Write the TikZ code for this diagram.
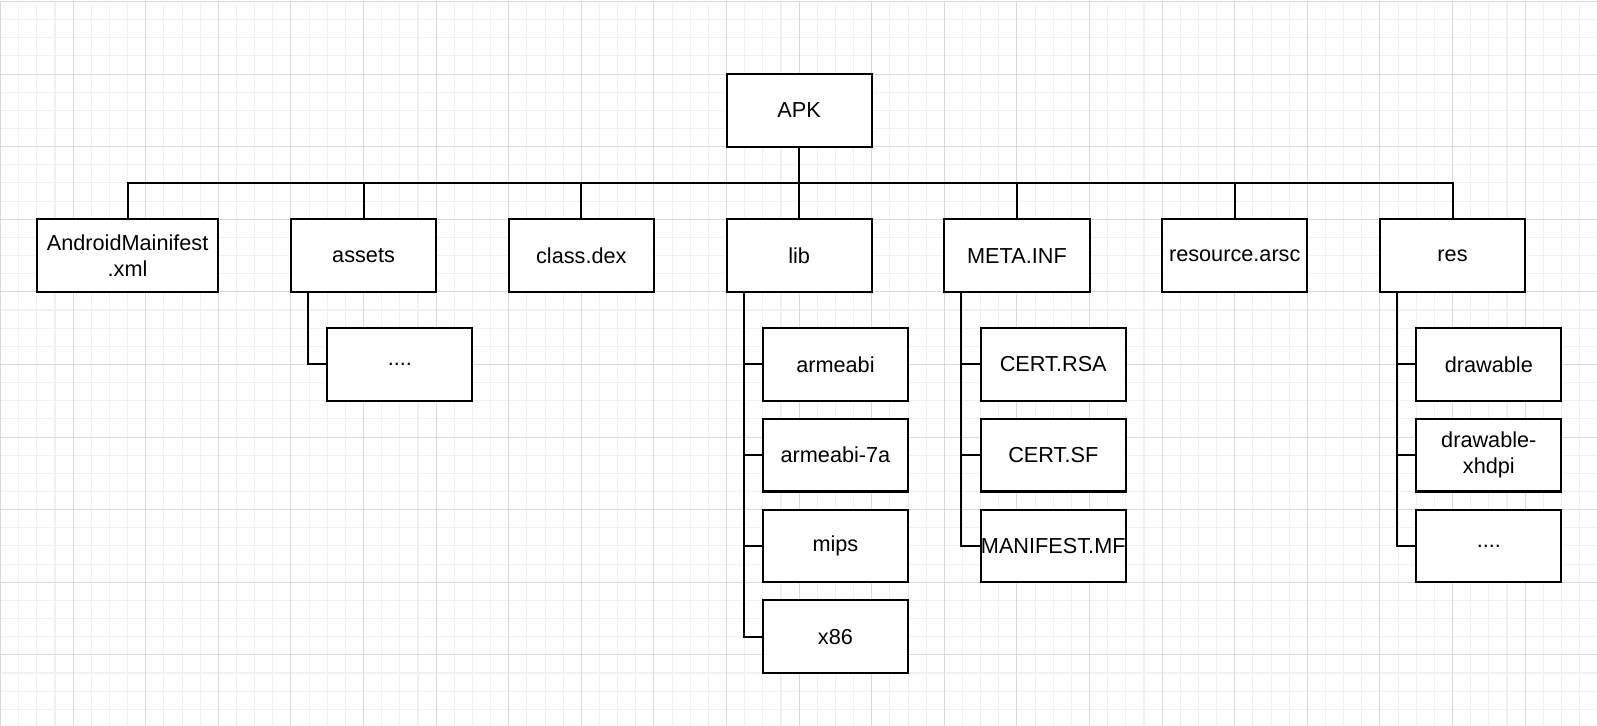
\documentclass[tikz,border=0pt]{standalone}
\usepackage{fontspec}
\setmainfont{Liberation Sans}
\usepackage{tikz}
\definecolor{gridminor}{RGB}{240,240,240}
\definecolor{gridmajor}{RGB}{218,218,218}
\begin{document}
\begin{tikzpicture}[x=0.5cm, y=-0.5cm]
		\tikzset{
			box/.style = {draw, fill=white, line width=1.6pt, minimum height=2cm,
				text width=4cm, inner sep=0pt, align=center,
				font=\fontsize{17}{20.5}\selectfont},
			link/.style = {line width=1.6pt}
		}
		\useasboundingbox (-0.03,-0.08) rectangle (87.96,39.92);
		\draw[gridminor, line width=0.8pt, step=0.5cm] (0,0) grid (88,40);
		\draw[gridmajor, line width=0.8pt, step=2cm] (0,0) grid (88,40);
		% root and first level
		\node[box] (APK) at (44,6){APK};
		\node[box, text width=5cm] (AM) at (7,14){AndroidMainifest\\.xml};
		\node[box] (assets) at (20,14){assets};
		\node[box] (dex) at (32,14){class.dex};
		\node[box] (lib) at (44,14){lib};
		\node[box] (meta) at (56,14){META.INF};
		\node[box] (arsc) at (68,14){resource.arsc};
		\node[box] (res) at (80,14){res};
		\coordinate (bus) at (44,10);
		\draw[link] (APK) -- (bus);
		\draw[link] (AM.north) |- (bus) -| (res.north);
		\draw[link] (assets.north) -- (assets.north |- bus);
		\draw[link] (dex.north) -- (dex.north |- bus);
		\draw[link] (lib.north) -- (lib.north |- bus);
		\draw[link] (meta.north) -- (meta.north |- bus);
		\draw[link] (arsc.north) -- (arsc.north |- bus);
		% assets
		\node[box] (dotsA) at (22,20){....};
		\draw[link] ([xshift=0.5cm]assets.south west) |- (dotsA.west);
		% lib
		\node[box] (arm) at (46,20){armeabi};
		\node[box] (arm7) at (46,25){armeabi-7a};
		\node[box] (mips) at (46,30){mips};
		\node[box] (x86) at (46,35){x86};
		\coordinate (libT) at ([xshift=0.5cm]lib.south west);
		\draw[link] (libT) |- (x86.west);
		\draw[link] (arm.west) -- (arm.west -| libT);
		\draw[link] (arm7.west) -- (arm7.west -| libT);
		\draw[link] (mips.west) -- (mips.west -| libT);
		% META.INF
		\node[box] (rsa) at (58,20){CERT.RSA};
		\node[box] (sf) at (58,25){CERT.SF};
		\node[box] (mf) at (58,30){MANIFEST.MF};
		\coordinate (metaT) at ([xshift=0.5cm]meta.south west);
		\draw[link] (metaT) |- (mf.west);
		\draw[link] (rsa.west) -- (rsa.west -| metaT);
		\draw[link] (sf.west) -- (sf.west -| metaT);
		% res
		\node[box] (draw) at (82,20){drawable};
		\node[box] (xh) at (82,25){drawable-\\xhdpi};
		\node[box] (dotsR) at (82,30){....};
		\coordinate (resT) at ([xshift=0.5cm]res.south west);
		\draw[link] (resT) |- (dotsR.west);
		\draw[link] (draw.west) -- (draw.west -| resT);
		\draw[link] (xh.west) -- (xh.west -| resT);
	\end{tikzpicture}
\end{document}
